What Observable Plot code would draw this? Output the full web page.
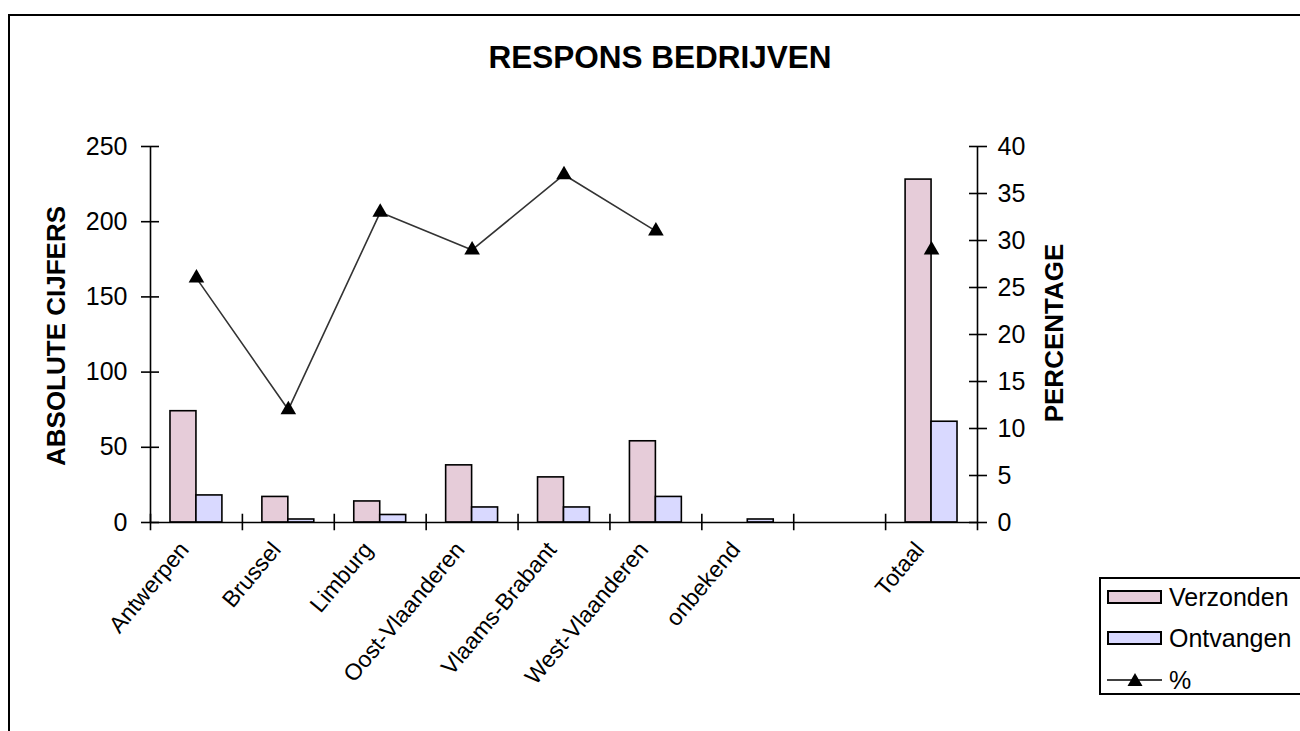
<!DOCTYPE html>
<html>
<head>
<meta charset="utf-8">
<script src="https://cdn.jsdelivr.net/npm/d3@7"></script>
<script src="https://cdn.jsdelivr.net/npm/@observablehq/plot@0.6"></script>
<style>
  html, body { margin: 0; padding: 0; background: #fff; overflow: hidden; }
  #wrap { position: relative; width: 1300px; height: 731px; overflow: hidden; font-family: "Liberation Sans", Arial, Helvetica, sans-serif; color: #000; }
  #wrap svg { position: absolute; left: 0; top: 0; }
  .abs { position: absolute; }
  #border { left: 8px; top: 14px; width: 1400px; height: 800px; border: 2px solid #000; box-sizing: border-box; }
  #title { left: 0; top: 39px; width: 1320px; text-align: center; font-size: 31.5px; font-weight: bold; line-height: 36px; }
  .ytitle { width: 400px; height: 30px; line-height: 30px; text-align: center; font-size: 26px; font-weight: bold; transform: rotate(-90deg); }
  #legend { left: 1099px; top: 577px; width: 260px; height: 118px; border: 2px solid #000; box-sizing: border-box; background: #fff; }
  .sw { width: 55px; height: 14px; border: 2px solid #000; box-sizing: border-box; }
  .lt { font-size: 25px; line-height: 30px; white-space: nowrap; }
</style>
</head>
<body>
<div id="wrap">
  <div id="chart"></div>
  <div id="border" class="abs"></div>
  <div id="title" class="abs">RESPONS BEDRIJVEN</div>
  <div class="abs ytitle" style="left:-144px; top:321px;">ABSOLUTE CIJFERS</div>
  <div class="abs ytitle" style="left:854px; top:318px;">PERCENTAGE</div>
  <div id="legend" class="abs"></div>
  <div class="abs sw" style="left:1107px; top:590px; background:#e6ccd9;"></div>
  <div class="abs lt" style="left:1169px; top:582px;">Verzonden</div>
  <div class="abs sw" style="left:1107px; top:631px; background:#d9d9ff;"></div>
  <div class="abs lt" style="left:1169px; top:623px;">Ontvangen</div>
  <svg class="abs" style="left:1105px; top:670px;" width="60" height="20">
    <line x1="2" y1="10" x2="57" y2="10" stroke="#000" stroke-width="1.5"></line>
    <path d="M30,3 L37.5,16 L22.5,16 Z" fill="#000"></path>
  </svg>
  <div class="abs lt" style="left:1169px; top:665px;">%</div>
</div>
<script>
const categories = ["Antwerpen", "Brussel", "Limburg", "Oost-Vlaanderen", "Vlaams-Brabant", "West-Vlaanderen", "onbekend", "", "Totaal"];
const verzonden = [74, 17, 14, 38, 30, 54, null, null, 228];
const ontvangen = [18, 2, 5, 10, 10, 17, 2, null, 67];
const percentage = [26, 12, 33, 29, 37, 31, null, null, 29];
const leftTicks = [0, 50, 100, 150, 200, 250];
const rightTicks = [0, 5, 10, 15, 20, 25, 30, 35, 40];

const W = 1300, H = 731, mL = 150, mR = 323, mT = 146, mB = 209;
const step = (W - mL - mR) / categories.length;
const k = 250 / 40; // map percentage axis onto the absolute axis

const table = categories.map((c, i) => ({
  category: c,
  verzonden: verzonden[i],
  ontvangen: ontvangen[i],
  pct: percentage[i]
}));

const font = "'Liberation Sans', Arial, Helvetica, sans-serif";

const chart = Plot.plot({
  width: W, height: H,
  marginLeft: mL, marginRight: mR, marginTop: mT, marginBottom: mB,
  x: {type: "band", domain: categories, paddingInner: 0, paddingOuter: 0, round: false, axis: null},
  y: {domain: [0, 250], axis: null},
  style: {fontFamily: font, fontSize: "25px", color: "#000", background: "transparent", overflow: "visible"},
  marks: [
    Plot.barY(table.filter(d => d.verzonden != null), {
      x: "category", y: "verzonden", fill: "#e6ccd9", stroke: "#000", strokeWidth: 1.6,
      insetLeft: step * 0.2175, insetRight: step * 0.5
    }),
    Plot.barY(table.filter(d => d.ontvangen != null), {
      x: "category", y: "ontvangen", fill: "#d9d9ff", stroke: "#000", strokeWidth: 1.6,
      insetLeft: step * 0.5, insetRight: step * 0.2175
    }),
    Plot.ruleY([0], {stroke: "#000", strokeWidth: 1.6}),
    Plot.ruleX([categories[0]], {dx: -step / 2, y1: 0, y2: 250, stroke: "#000", strokeWidth: 1.6}),
    Plot.ruleX([categories[categories.length - 1]], {dx: step / 2, y1: 0, y2: 250, stroke: "#000", strokeWidth: 1.6}),
    Plot.ruleX(categories, {dx: -step / 2, y1: -5.5, y2: 5.5, stroke: "#000", strokeWidth: 1.6}),
    Plot.ruleX([categories[categories.length - 1]], {dx: step / 2, y1: -5.5, y2: 0, stroke: "#000", strokeWidth: 1.6}),
    Plot.axisY({anchor: "left", ticks: leftTicks, tickSize: 18, dx: 9, tickPadding: 14, strokeWidth: 1.6, fontSize: 25, label: null}),
    Plot.axisY({anchor: "right", ticks: rightTicks.map(v => v * k), tickFormat: d => String(Math.round(d / k)),
      tickSize: 18, dx: -9, tickPadding: 11, strokeWidth: 1.6, fontSize: 25, label: null}),
    Plot.axisX({anchor: "bottom", tickSize: 0, tickRotate: -50, tickPadding: 23, dx: -12, fontSize: 23, label: null, tickFormat: d => d}),
    Plot.line(table, {x: "category", y: d => d.pct == null ? NaN : d.pct * k, stroke: "#333", strokeWidth: 1.6}),
    Plot.dot(table.filter(d => d.pct != null), {x: "category", y: d => d.pct * k, symbol: "triangle", r: 5.8, fill: "#000", stroke: "none"})
  ]
});
document.getElementById("chart").appendChild(chart);
</script>
</body>
</html>
